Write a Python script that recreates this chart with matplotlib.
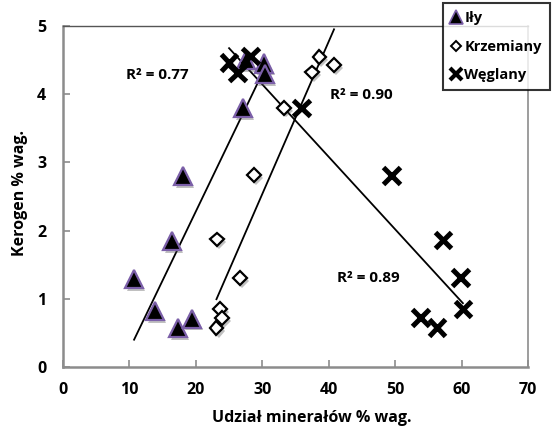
import numpy as np
import matplotlib
matplotlib.use("Agg")
import matplotlib.pyplot as plt
import matplotlib.patheffects as pe
from matplotlib.lines import Line2D

plt.rcParams['font.family'] = ['Open Sans', 'DejaVu Sans']
plt.rcParams['font.weight'] = 'bold'

# Data
ily_x = [10.7, 13.9, 16.4, 17.3, 18.1, 19.4, 27.1, 27.6, 30.3, 30.4]
ily_y = [1.29, 0.82, 1.85, 0.57, 2.80, 0.71, 3.80, 4.50, 4.45, 4.29]

krz_x = [23.1, 23.6, 23.9, 23.2, 26.6, 28.7, 33.3, 37.5, 38.6, 40.8]
krz_y = [0.57, 0.85, 0.72, 1.87, 1.30, 2.81, 3.80, 4.32, 4.54, 4.43]

weg_x = [25.0, 26.3, 28.2, 35.9, 49.5, 57.2, 59.8, 60.2, 53.8, 56.3]
weg_y = [4.46, 4.31, 4.56, 3.80, 2.81, 1.86, 1.31, 0.85, 0.73, 0.58]

series_names = ['Iły', 'Krzemiany', 'Węglany']
r2_labels = ['R² = 0.77', 'R² = 0.90', 'R² = 0.89']

x_ticks = [0, 10, 20, 30, 40, 50, 60, 70]
y_ticks = [0, 1, 2, 3, 4, 5]

fig = plt.figure(figsize=(5.52, 4.28), dpi=100)
ax = fig.add_axes([63/552, 1-367/428, (528-63)/552, (367-26)/428])

shadow = [pe.SimplePatchShadow(offset=(1.5, -2), shadow_rgbFace='0.3', alpha=0.35), pe.Normal()]

# trend lines (linear fits over each series' x range)
for xs, ys in [(ily_x, ily_y), (krz_x, krz_y), (weg_x, weg_y)]:
    xs = np.array(xs); ys = np.array(ys)
    k, b = np.polyfit(xs, ys, 1)
    xx = np.array([xs.min(), xs.max()])
    ax.plot(xx, k*xx + b, color='black', lw=1.3, zorder=2)

ax.plot(ily_x, ily_y, ls='none', marker='^', ms=13, mfc='black', mec='#7b5fa8', mew=1.6,
        zorder=3, path_effects=shadow)
ax.plot(krz_x, krz_y, ls='none', marker='D', ms=7, mfc='white', mec='black', mew=1.6,
        zorder=4, path_effects=shadow)
ax.plot(weg_x, weg_y, ls='none', marker='x', ms=12, mec='black', mew=3.6,
        zorder=5, path_effects=shadow)

ax.set_xlim(0, 70)
ax.set_ylim(0, 5)
ax.set_xticks(x_ticks)
ax.set_yticks(y_ticks)
ax.tick_params(direction='in', length=5, width=1.2, color='#8c8c8c', labelsize=11.5, pad=11)
ax.tick_params(axis='y', pad=12)
for lab in ax.get_xticklabels() + ax.get_yticklabels():
    lab.set_fontweight('bold')

for s in ['left', 'bottom']:
    ax.spines[s].set_color('#8c8c8c')
    ax.spines[s].set_linewidth(1.8)
ax.spines['right'].set_color('#8c8c8c')
ax.spines['right'].set_linewidth(1.2)
ax.spines['top'].set_color('#555555')
ax.spines['top'].set_linewidth(1.0)

ax.text(14.2, 4.28, r2_labels[0], fontsize=11, fontweight='bold', ha='center', va='center')
ax.text(44.9, 3.99, r2_labels[1], fontsize=11, fontweight='bold', ha='center', va='center')
ax.text(45.9, 1.30, r2_labels[2], fontsize=11, fontweight='bold', ha='center', va='center')

fig.text(312/552, 1-418/428, 'Udział minerałów % wag.', fontsize=11.5, fontweight='bold',
         ha='center', va='center')
fig.text(20/552, 1-193/428, 'Kerogen % wag.', fontsize=11.5, fontweight='bold',
         ha='center', va='center', rotation=90)

handles = [
    Line2D([], [], ls='none', marker='^', ms=10, mfc='black', mec='#7b5fa8', mew=1.2),
    Line2D([], [], ls='none', marker='D', ms=5.5, mfc='white', mec='black', mew=1.4),
    Line2D([], [], ls='none', marker='x', ms=8.5, mec='black', mew=3),
]
leg = fig.legend(handles, series_names, loc='upper right', bbox_to_anchor=(550/552, 1-3/428),
                 frameon=True, fancybox=False, borderpad=0.55, handlelength=0.6,
                 handletextpad=0.3, labelspacing=1.0, borderaxespad=0,
                 prop={'weight': 'bold', 'size': 10.5})
leg.get_frame().set_edgecolor('black')
leg.get_frame().set_linewidth(1.5)

fig.savefig('out.png', dpi=100)
